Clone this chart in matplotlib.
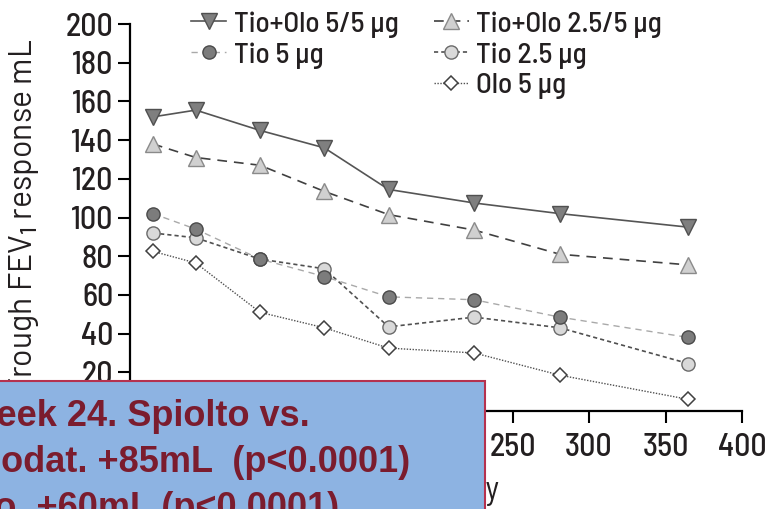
import matplotlib
matplotlib.use("Agg")
import matplotlib.pyplot as plt
from matplotlib.lines import Line2D
from matplotlib.patches import Rectangle

# ---- data -------------------------------------------------------------
days = [15, 43, 85, 127, 169, 225, 281, 365]
tio_olo_5_5 = [152, 155.5, 145, 136, 114.5, 107.5, 102, 95]
tio_olo_2_5_5 = [138, 131, 127, 113.5, 101.5, 93.5, 81, 75.5]
tio_5 = [102, 94, 78.5, 69.5, 59, 57.5, 48.5, 38]
tio_2_5 = [92, 89.5, 78.5, 73.5, 43.5, 48.5, 43, 24.5]
olo_5 = [82.5, 76.5, 51, 43, 32.5, 30, 18.5, 6]

labels = ["Tio+Olo 5/5 µg", "Tio+Olo 2.5/5 µg", "Tio 5 µg", "Tio 2.5 µg", "Olo 5 µg"]
y_ticks = [20, 40, 60, 80, 100, 120, 140, 160, 180, 200]
x_ticks = [0, 50, 100, 150, 200, 250, 300, 350, 400]
note_lines = ["Week 24. Spiolto vs.",
              "Olodat. +85mL  (p<0.0001)",
              "Tio. +60mL (p<0.0001)"]

# ---- style ------------------------------------------------------------
plt.rcParams["font.family"] = ["Barlow Semi Condensed", "DejaVu Sans"]
plt.rcParams["font.weight"] = "medium"
plt.rcParams["mathtext.fontset"] = "custom"
plt.rcParams["mathtext.rm"] = "Barlow:medium"
plt.rcParams["lines.scale_dashes"] = False
text_col = "#231f20"

fig = plt.figure(figsize=(7.68, 5.09), dpi=100)
ax = fig.add_axes([130 / 768, 1 - 411 / 509, 612 / 768, 387 / 509])

series = [
    (olo_5, dict(color="#505050", ls=(0, (1.0, 1.1)), lw=1.0, marker="D", ms=7,
                 mfc="white", mec="#404040", mew=1.1)),
    (tio_2_5, dict(color="#505050", ls=(0, (3.0, 2.2)), lw=1.2, marker="o", ms=9.5,
                   mfc="#d9d9d9", mec="#6a6a6a", mew=1.0)),
    (tio_5, dict(color="#a9a9a9", ls=(0, (4.5, 3.5)), lw=1.0, marker="o", ms=9.5,
                 mfc="#7c7c7c", mec="#4a4a4a", mew=1.0)),
    (tio_olo_2_5_5, dict(color="#404040", ls=(0, (7.0, 5.0)), lw=1.2, marker="^", ms=11.5,
                         mfc="#d0d0d0", mec="#8a8a8a", mew=1.0)),
    (tio_olo_5_5, dict(color="#555555", ls="-", lw=1.2, marker="v", ms=11.5,
                       mfc="#7f7f7f", mec="#505050", mew=1.0)),
]
handles = []
for vals, kw in series:
    (ln,) = ax.plot(days, vals, **kw)
    handles.append(ln)
h_olo, h_t25, h_t5, h_to25, h_to55 = handles

ax.set_xlim(0, 400)
ax.set_ylim(0, 200)
ax.set_xticks(x_ticks)
ax.set_yticks(y_ticks)
for s in ("top", "right"):
    ax.spines[s].set_visible(False)
for s in ("left", "bottom"):
    ax.spines[s].set_linewidth(1.6)
    ax.spines[s].set_color("black")
ax.tick_params(axis="both", direction="out", length=8.5, width=1.5, colors="black",
               labelcolor=text_col, labelsize=23)
ax.tick_params(axis="y", pad=3.5)
ax.tick_params(axis="x", pad=7.5)

ax.set_ylabel("Trough FEV$_1$ response mL", fontsize=23, color=text_col,
              family=["Barlow", "DejaVu Sans"])
ax.yaxis.set_label_coords(-0.146, 0.5)
ax.set_xlabel("Study day", fontsize=23, color=text_col, labelpad=10, x=0.505)

blank = Line2D([], [], ls="none", marker="none")
leg = ax.legend([h_to55, h_t5, blank, h_to25, h_t25, h_olo],
                [labels[0], labels[2], "", labels[1], labels[3], labels[4]],
                ncol=2, loc="upper left", bbox_to_anchor=(190 / 768, 0.981),
                bbox_transform=fig.transFigure, frameon=False, fontsize=21,
                handlelength=1.2, handletextpad=0.25, columnspacing=1.2,
                labelspacing=0.15, borderpad=0.05, borderaxespad=0)
for t in leg.get_texts():
    t.set_color(text_col)

# annotation box in the lower-left corner
fig.add_artist(Rectangle((-0.05, -0.05), 485 / 768 + 0.05, (509 - 381) / 509 + 0.05,
                         transform=fig.transFigure, facecolor="#8db3e2",
                         edgecolor="#b5324f", lw=1.5, zorder=10))
for i, line in enumerate(note_lines):
    fig.text(-37 / 768, (509 - 426 - 46 * i) / 509, line, fontsize=26,
             family="Liberation Sans", weight="bold", color="#7b1c2e",
             va="baseline", ha="left", zorder=11)

fig.savefig("out.png", dpi=100)
